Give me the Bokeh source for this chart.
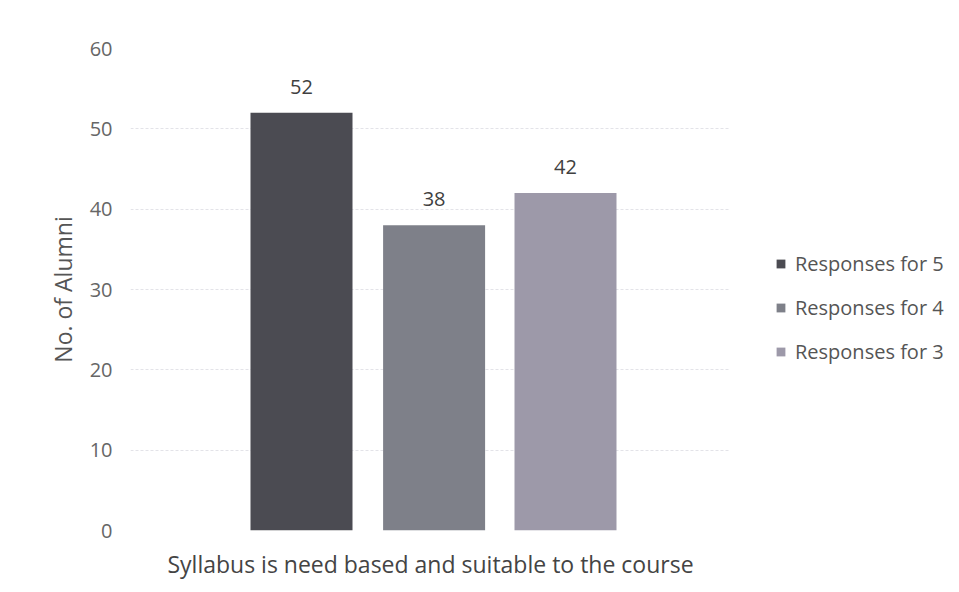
from bokeh.plotting import figure
from bokeh.models import ColumnDataSource, Legend, LegendItem, LabelSet, FactorRange
from bokeh.transform import dodge
from bokeh.core.properties import value
from bokeh.embed import file_html
from bokeh.resources import INLINE

categories = ["Syllabus is need based and suitable to the course"]
series = ["Responses for 5", "Responses for 4", "Responses for 3"]
values = [52, 38, 42]
colors = ["#4b4b52", "#7e8089", "#9d99a9"]
offsets = [-0.215, 0.006, 0.225]
y_ticks = [0, 10, 20, 30, 40, 50, 60]

FONT = "Open Sans"

p = figure(x_range=FactorRange(*categories), y_range=(0, 60),
           frame_width=600, frame_height=482,
           output_backend="svg", toolbar_location=None,
           min_border_left=130, min_border_right=213, min_border_top=48, min_border_bottom=46)
p.outline_line_color = None
p.background_fill_color = "white"
p.border_fill_color = "white"

items = []
for s, v, c, o in zip(series, values, colors, offsets):
    src = ColumnDataSource(dict(x=categories, y=[v], lbl=[str(v)]))
    r = p.vbar(x=dodge("x", o, range=p.x_range), top="y", width=0.17, source=src,
               fill_color=c, line_color=None)
    items.append(LegendItem(label=s, renderers=[r]))
    lab = LabelSet(x=dodge("x", o, range=p.x_range), y="y", text="lbl", source=src,
                   text_align="center", y_offset=19, text_font=value(FONT),
                   text_font_size="20px", text_color="#404040")
    p.add_layout(lab)

legend = Legend(items=items, location=(45, 165), border_line_color=None,
                background_fill_alpha=0,
                label_text_font=FONT, label_text_font_size="20px", label_text_color="#555555",
                glyph_width=11, glyph_height=11, spacing=17, label_standoff=9,
                margin=0, padding=0)
p.add_layout(legend, "right")

p.yaxis.ticker = y_ticks
p.yaxis.axis_label = "No. of Alumni"
p.yaxis.axis_label_text_font = FONT
p.yaxis.axis_label_text_font_style = "normal"
p.yaxis.axis_label_text_font_size = "23px"
p.yaxis.axis_label_text_color = "#555555"
p.yaxis.axis_label_standoff = 8
p.yaxis.major_label_text_font = FONT
p.yaxis.major_label_text_font_size = "20px"
p.yaxis.major_label_text_color = "#666666"
p.yaxis.major_label_standoff = 12
p.yaxis.axis_line_color = None
p.yaxis.major_tick_line_color = None
p.yaxis.minor_tick_line_color = None

p.xaxis.axis_line_color = None
p.xaxis.major_tick_line_color = None
p.xaxis.major_label_text_font = FONT
p.xaxis.major_label_text_font_size = "23px"
p.xaxis.major_label_text_color = "#444444"
p.xaxis.major_label_standoff = 11

p.xgrid.grid_line_color = None
p.ygrid.grid_line_color = "#e3e3e8"
p.ygrid.grid_line_dash = "3 2"
p.x_range.range_padding = 0

open("out.html", "w").write(file_html(p, INLINE))
